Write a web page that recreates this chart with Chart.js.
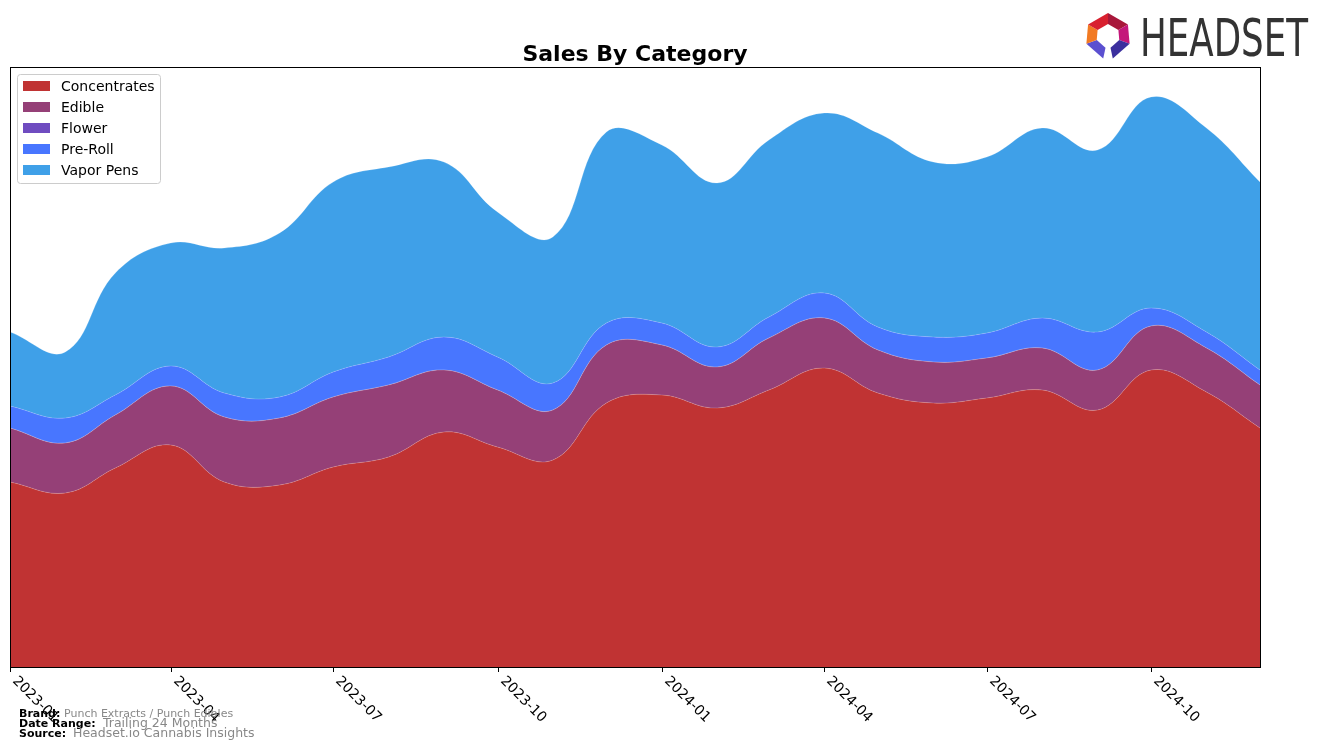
<!DOCTYPE html>
<html>
<head>
<meta charset="utf-8">
<script src="https://cdn.jsdelivr.net/npm/chart.js@4/dist/chart.umd.min.js"></script>
<style>
  html, body { margin: 0; padding: 0; background: #ffffff; }
  #wrap { width: 1324px; height: 748px; position: relative; }
</style>
</head>
<body>
<div id="wrap"><canvas id="c" width="1324" height="748"></canvas></div>
<script>
// ---- Data ----
const months = ['2023-01','2023-02','2023-03','2023-04','2023-05','2023-06','2023-07','2023-08','2023-09','2023-10','2023-11','2023-12',
                '2024-01','2024-02','2024-03','2024-04','2024-05','2024-06','2024-07','2024-08','2024-09','2024-10','2024-11','2024-12'];
const concentrates = [185,174,199,222,185,182,200,210,235,220,207,264,272,259,277,299,274,264,269,277,257,297,275,239];
const edible       = [54,50,53,59,65,67,70,72,62,57,50,58,50,41,52,50,43,41,40,42,40,44,44,43];
const flower       = [0,0,0,0,0,0,0,0,0,0,0,0,0,0,0,0,0,0,0,0,0,0,0,0];
const preRoll      = [22,25,20,20,24,21,25,28,33,33,27,22,22,20,21,25,23,25,25,30,38,18,16,15];
const vaporPens    = [74,66,122,123,145,164,190,190,175,145,146,191,178,164,177,180,194,175,176,190,182,211,204,188];
const tickLabels   = ['2023-01','2023-04','2023-07','2023-10','2024-01','2024-04','2024-07','2024-10'];
const seriesNames  = ['Concentrates','Edible','Flower','Pre-Roll','Vapor Pens'];
const seriesColors = ['#c03333','#954077','#6f4cc0','#4876ff','#3fa0e8'];

const DAY = 86400000;
const t0 = Date.UTC(2023, 0, 1);
function dayOf(label) {
  const [y, m] = label.split('-').map(Number);
  return (Date.UTC(y, m - 1, 1) - t0) / DAY;
}
const xs = months.map(dayOf);
const allSeries = [concentrates, edible, flower, preRoll, vaporPens];

const datasets = allSeries.map((vals, i) => ({
  label: seriesNames[i],
  data: vals.map((v, j) => ({ x: xs[j], y: v })),
  backgroundColor: seriesColors[i],
  borderColor: 'rgba(255,255,255,0.22)',
  borderWidth: 0.8,
  pointRadius: 0,
  tension: 0.4,
  fill: i === 0 ? 'origin' : '-1'
}));

const overlay = {
  id: 'overlay',
  afterDraw(chart) {
    const ctx = chart.ctx;
    const a = chart.chartArea;
    const sx = chart.scales.x;
    ctx.save();
    // frame
    ctx.strokeStyle = '#000';
    ctx.lineWidth = 1;
    ctx.strokeRect(Math.round(a.left) + 0.5, Math.round(a.top) + 0.5,
                   Math.round(a.right - a.left), Math.round(a.bottom - a.top));
    // x ticks + rotated labels
    ctx.font = '14px "DejaVu Sans"';
    ctx.fillStyle = '#000';
    tickLabels.forEach(lbl => {
      const px = Math.round(sx.getPixelForValue(dayOf(lbl))) + 0.5;
      ctx.beginPath();
      ctx.moveTo(px, a.bottom);
      ctx.lineTo(px, a.bottom + 5);
      ctx.stroke();
      ctx.save();
      ctx.translate(px + 9, a.bottom + 7);
      ctx.rotate(Math.PI / 4);
      ctx.textAlign = 'left';
      ctx.textBaseline = 'top';
      ctx.fillText(lbl, 0, 0);
      ctx.restore();
    });
    // title
    ctx.font = 'bold 22px "DejaVu Sans"';
    ctx.textAlign = 'center';
    ctx.textBaseline = 'alphabetic';
    ctx.fillStyle = '#000';
    ctx.fillText('Sales By Category', (a.left + a.right) / 2, 61);
    // legend
    const lx = 17, ly = 74, lw = 143, lh = 109;
    ctx.fillStyle = 'rgba(255,255,255,0.85)';
    ctx.strokeStyle = '#cccccc';
    ctx.beginPath();
    ctx.roundRect(lx + 0.5, ly + 0.5, lw, lh, 3);
    ctx.fill();
    ctx.stroke();
    ctx.font = '14px "DejaVu Sans"';
    ctx.textAlign = 'left';
    ctx.textBaseline = 'middle';
    seriesNames.forEach((n, i) => {
      const cy = 86 + i * 21;
      ctx.fillStyle = seriesColors[i];
      ctx.fillRect(23, cy - 5, 27, 10);
      ctx.fillStyle = '#000';
      ctx.fillText(n, 61, cy + 1);
    });
    // footer
    ctx.textBaseline = 'alphabetic';
    ctx.fillStyle = '#000';
    ctx.font = 'bold 11px "DejaVu Sans"';
    ctx.fillText('Brand:', 19, 717);
    ctx.fillText('Date Range:', 19, 727);
    ctx.fillText('Source:', 19, 737);
    ctx.fillStyle = '#888888';
    ctx.font = '11px "DejaVu Sans"';
    ctx.fillText('Punch Extracts / Punch Edibles', 64, 717);
    ctx.font = '12.5px "DejaVu Sans"';
    ctx.fillText('Trailing 24 Months', 103, 727);
    ctx.fillText('Headset.io Cannabis Insights', 73, 737);
    // logo icon
    const cx = 1108, cyc = 36, R = 23, r = 12;
    const segs = [
      [-90, -30, '#a8173a'],
      [-30, 20, '#c4177a'],
      [20, 78, '#3b2f9e'],
      [102, 160, '#5b50d0'],
      [160, 210, '#f27a22'],
      [210, 270, '#d8202f']
    ];
    const P = (ang, rad) => [cx + rad * Math.cos(ang * Math.PI / 180), cyc + rad * Math.sin(ang * Math.PI / 180)];
    segs.forEach(([s, e, col]) => {
      ctx.fillStyle = col;
      ctx.beginPath();
      let p = P(s, R); ctx.moveTo(p[0], p[1]);
      p = P(e, R); ctx.lineTo(p[0], p[1]);
      p = P(e, r); ctx.lineTo(p[0], p[1]);
      p = P(s, r); ctx.lineTo(p[0], p[1]);
      ctx.closePath();
      ctx.fill();
    });
    // logo text
    ctx.fillStyle = '#333333';
    ctx.font = '52px "Liberation Sans Narrow", "DejaVu Sans Condensed", "Liberation Sans"';
    ctx.textAlign = 'left';
    ctx.textBaseline = 'alphabetic';
    const w = ctx.measureText('HEADSET').width;
    ctx.save();
    ctx.translate(1140, 56);
    ctx.scale(168 / w, 1);
    ctx.fillText('HEADSET', 0, 0);
    ctx.restore();
    ctx.restore();
  }
};

new Chart(document.getElementById('c'), {
  type: 'line',
  data: { datasets },
  options: {
    responsive: false,
    animation: false,
    devicePixelRatio: 1,
    layout: { padding: { left: 10, top: 67, right: 64, bottom: 81 } },
    plugins: { legend: { display: false }, title: { display: false }, tooltip: { enabled: false } },
    scales: {
      x: { type: 'linear', display: false, min: 0, max: 700 },
      y: { display: false, stacked: true, min: 0, max: 600 }
    }
  },
  plugins: [overlay]
});
</script>
</body>
</html>
